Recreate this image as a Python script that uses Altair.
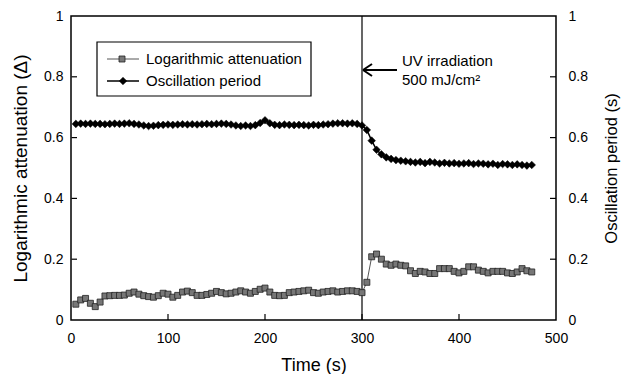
import altair as alt
import pandas as pd

# ---- data ----
time_s = [5, 10, 15, 20, 25, 30, 35, 40, 45, 50, 55, 60, 65, 70, 75, 80, 85, 90, 95, 100,
          105, 110, 115, 120, 125, 130, 135, 140, 145, 150, 155, 160, 165, 170, 175, 180,
          185, 190, 195, 200, 205, 210, 215, 220, 225, 230, 235, 240, 245, 250, 255, 260,
          265, 270, 275, 280, 285, 290, 295, 300, 305, 310, 315, 320, 325, 330, 335, 340,
          345, 350, 355, 360, 365, 370, 375, 380, 385, 390, 395, 400, 405, 410, 415, 420,
          425, 430, 435, 440, 445, 450, 455, 460, 465, 470, 475]

log_attenuation = [
    0.052, 0.066, 0.071, 0.055, 0.044, 0.059, 0.079, 0.080, 0.081, 0.081,
    0.082, 0.088, 0.092, 0.085, 0.080, 0.077, 0.075, 0.080, 0.088, 0.085,
    0.075, 0.081, 0.092, 0.095, 0.090, 0.081, 0.081, 0.084, 0.088, 0.094,
    0.090, 0.086, 0.088, 0.092, 0.096, 0.092, 0.088, 0.094, 0.101, 0.105,
    0.092, 0.081, 0.080, 0.081, 0.090, 0.092, 0.094, 0.096, 0.098, 0.090,
    0.088, 0.092, 0.094, 0.096, 0.092, 0.094, 0.096, 0.096, 0.094, 0.090,
    0.124, 0.208, 0.217, 0.200, 0.184, 0.180, 0.184, 0.180, 0.178, 0.162,
    0.153, 0.160, 0.158, 0.153, 0.153, 0.169, 0.169, 0.169, 0.160, 0.155,
    0.160, 0.175, 0.175, 0.164, 0.160, 0.155, 0.160, 0.160, 0.160, 0.155,
    0.153, 0.158, 0.169, 0.162, 0.158]

oscillation_period = [
    0.645, 0.646, 0.645, 0.646, 0.645, 0.645,
    0.644, 0.645, 0.646, 0.645, 0.646, 0.647,
    0.645, 0.643, 0.640, 0.638, 0.639, 0.641,
    0.642, 0.643, 0.642, 0.643, 0.644, 0.643,
    0.644, 0.643, 0.644, 0.645, 0.644, 0.645,
    0.646, 0.645, 0.643, 0.640, 0.638, 0.640,
    0.638, 0.641, 0.648, 0.657,
    0.647, 0.642, 0.641, 0.643, 0.642, 0.641,
    0.642, 0.641, 0.640, 0.642, 0.641, 0.643,
    0.644, 0.646, 0.647, 0.647, 0.646, 0.647, 0.645, 0.640,
    0.625, 0.590, 0.560, 0.545, 0.535, 0.530, 0.526, 0.524, 0.522, 0.520,
    0.518, 0.520, 0.516, 0.520, 0.518, 0.515, 0.517, 0.515, 0.516, 0.514,
    0.515, 0.516, 0.513, 0.515, 0.514, 0.512, 0.514, 0.510, 0.513, 0.512,
    0.510, 0.512, 0.510, 0.508, 0.510]

x_ticks = [0, 100, 200, 300, 400, 500]
y_ticks = [0, 0.2, 0.4, 0.6, 0.8, 1]
inner_x_ticks = [100, 200, 300, 400]
inner_y_ticks = [0.2, 0.4, 0.6, 0.8]
uv_time = [300]
legend_labels = ["Logarithmic attenuation", "Oscillation period"]
annotation_lines = ["UV irradiation", "500 mJ/cm²"]

W, H = 485, 304
FONT = "Liberation Sans"
TICK = 6

df = pd.DataFrame({"t": time_s, "att": log_attenuation, "osc": oscillation_period})

xscale = alt.Scale(domain=[0, 500], nice=False, zero=False)
yscale = alt.Scale(domain=[0, 1], nice=False)

x_axis = alt.Axis(values=x_ticks, title="Time (s)", tickSize=0, labelPadding=11,
                  titlePadding=11, grid=False, domain=False, labelFlush=False,
                  format="d", titleFontSize=18)
X = alt.X("t:Q", scale=xscale, axis=x_axis)

left_axis = alt.Axis(values=y_ticks, format=".1~f", tickSize=0, labelPadding=8,
                     title="Logarithmic attenuation (Δ)", titlePadding=13,
                     titleFontSize=19,
                     grid=False, domain=False, labelFlush=False, orient="left")
right_axis = alt.Axis(values=y_ticks, format=".1~f", tickSize=0, labelPadding=12,
                      title="Oscillation period (s)", titlePadding=16,
                      titleFontSize=16.5,
                      titleAngle=270, titleBaseline="top",
                      grid=False, domain=False, labelFlush=False, orient="right")

uv_line = alt.Chart(pd.DataFrame({"t": uv_time})).mark_rule(
    color="black", strokeWidth=1.2).encode(x=X)

att_line = alt.Chart(df).mark_line(color="#555555", strokeWidth=1).encode(
    x=X, y=alt.Y("att:Q", scale=yscale, axis=left_axis))
att_pts = alt.Chart(df).mark_point(
    shape="square", filled=True, fill="#777777", stroke="#222222",
    strokeWidth=0.8, size=36, opacity=1).encode(
    x=X, y=alt.Y("att:Q", scale=yscale, axis=None))

osc_line = alt.Chart(df).mark_line(color="black", strokeWidth=1.5).encode(
    x=X, y=alt.Y("osc:Q", scale=yscale, axis=right_axis))
osc_pts = alt.Chart(df).mark_point(
    shape="diamond", filled=True, fill="black", stroke="black",
    strokeWidth=0.5, size=58, opacity=1).encode(
    x=X, y=alt.Y("osc:Q", scale=yscale, axis=None))

# inward ticks
ydf = pd.DataFrame({"v": inner_y_ticks})
xdf = pd.DataFrame({"t": inner_x_ticks})
lticks = alt.Chart(ydf).mark_rule(color="black", strokeWidth=1.2).encode(
    y=alt.Y("v:Q", scale=yscale, axis=None), x=alt.value(TICK), x2=alt.value(0.5))
rticks = alt.Chart(ydf).mark_rule(color="black", strokeWidth=1.2).encode(
    y=alt.Y("v:Q", scale=yscale, axis=None), x=alt.value(W - TICK), x2=alt.value(W))
bticks = alt.Chart(xdf).mark_rule(color="black", strokeWidth=1.2).encode(
    x=X, y=alt.value(H - TICK), y2=alt.value(H))

# legend (drawn by hand)
leg_box = alt.Chart().mark_rect(fill="white", stroke="black", strokeWidth=1.2).encode(
    x=alt.value(26), x2=alt.value(240), y=alt.value(26), y2=alt.value(80))
leg_l1 = alt.Chart().mark_rule(color="#555555", strokeWidth=1).encode(
    x=alt.value(36), x2=alt.value(68), y=alt.value(43))
leg_p1 = alt.Chart().mark_point(
    shape="square", filled=True, fill="#777777", stroke="#222222",
    strokeWidth=0.8, size=36, opacity=1).encode(x=alt.value(51), y=alt.value(43))
leg_l2 = alt.Chart().mark_rule(color="black", strokeWidth=1.5).encode(
    x=alt.value(36), x2=alt.value(68), y=alt.value(65))
leg_p2 = alt.Chart().mark_point(
    shape="diamond", filled=True, fill="black", stroke="black",
    strokeWidth=0.5, size=58, opacity=1).encode(x=alt.value(52), y=alt.value(65))
leg_t1 = alt.Chart().mark_text(text=legend_labels[0], align="left", baseline="middle",
                               fontSize=15, font=FONT, color="black").encode(
    x=alt.value(75), y=alt.value(43))
leg_t2 = alt.Chart().mark_text(text=legend_labels[1], align="left", baseline="middle",
                               fontSize=15, font=FONT, color="black").encode(
    x=alt.value(75), y=alt.value(65))

# arrow + annotation
arr_shaft = alt.Chart().mark_rule(color="black", strokeWidth=2).encode(
    x=alt.value(292), x2=alt.value(326), y=alt.value(54))
arr_h1 = alt.Chart().mark_rule(color="black", strokeWidth=2).encode(
    x=alt.value(292), x2=alt.value(301), y=alt.value(54), y2=alt.value(48))
arr_h2 = alt.Chart().mark_rule(color="black", strokeWidth=2).encode(
    x=alt.value(292), x2=alt.value(301), y=alt.value(54), y2=alt.value(60))
ann1 = alt.Chart().mark_text(text=annotation_lines[0], align="left", baseline="middle",
                             fontSize=15, font=FONT, color="black").encode(
    x=alt.value(331), y=alt.value(45))
ann2 = alt.Chart().mark_text(text=annotation_lines[1], align="left", baseline="middle",
                             fontSize=15, font=FONT, color="black").encode(
    x=alt.value(331), y=alt.value(64))

chart = alt.layer(
    uv_line, att_line, att_pts, osc_line, osc_pts,
    lticks, rticks, bticks,
    leg_box, leg_l1, leg_p1, leg_l2, leg_p2, leg_t1, leg_t2,
    arr_shaft, arr_h1, arr_h2, ann1, ann2,
).resolve_scale(y="independent").properties(
    width=W, height=H,
    autosize=alt.AutoSizeParams(type="none"),
    padding={"left": 71, "top": 16, "right": 71, "bottom": 54},
    background="white",
).configure_view(
    stroke="black", strokeWidth=1.5
).configure_axis(
    labelFont=FONT, titleFont=FONT, labelFontSize=14, titleFontSize=16,
    labelColor="black", titleColor="black", titleFontWeight="normal",
)

chart.save("out.html", embed_options={"renderer": "svg", "actions": False})
